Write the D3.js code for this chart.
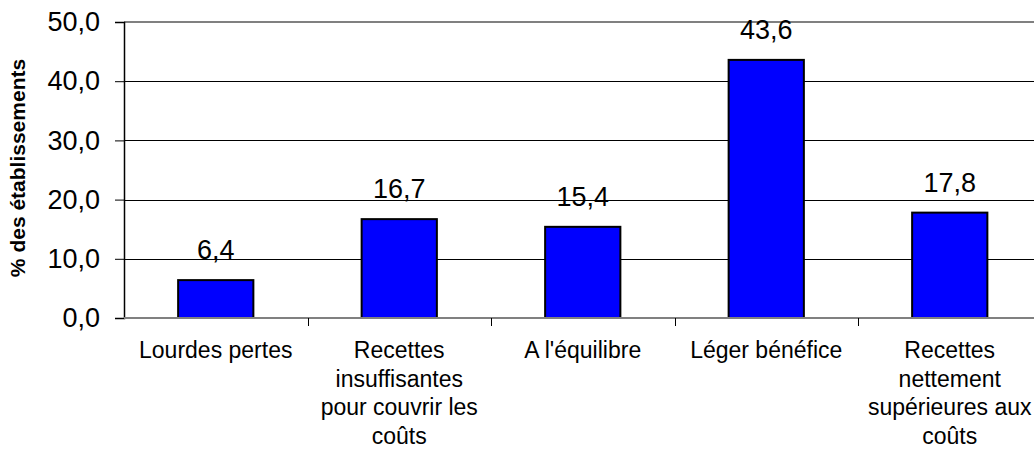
<!DOCTYPE html>
<html>
<head>
<meta charset="utf-8">
<script src="https://cdnjs.cloudflare.com/ajax/libs/d3/7.8.5/d3.min.js"></script>
<style>
body { margin: 0; background: #fff; }
text { font-family: "Liberation Sans", Arial, sans-serif; fill: #000; }
</style>
</head>
<body>
<svg width="1034" height="450"></svg>
<script>
// chart values
var categories = ["Lourdes pertes",
    "Recettes\ninsuffisantes\npour couvrir les\ncoûts",
    "A l'équilibre",
    "Léger bénéfice",
    "Recettes\nnettement\nsupérieures aux\ncoûts"];
var values = [6.4, 16.7, 15.4, 43.6, 17.8];
var yTicks = [0, 10, 20, 30, 40, 50];
var yTitle = "% des établissements";

// plot box (note: "top" is reserved on window, so use other names)
var plotLeft = 124, plotRight = 1041.5, plotTop = 22, plotBottom = 318;

var svg = d3.select("svg");
var commaFmt = function(d) { return d3.format(".1f")(d).replace(".", ","); };

var xScale = d3.scaleBand() // one step per category, ticks on the boundaries
    .domain(categories)
    .range([plotLeft, plotRight])
    .padding(0);

var yScale = d3.scaleLinear()
    .domain([0, 50])
    .range([plotBottom, plotTop]);

// horizontal gridlines
svg.append("g")
    .selectAll("line")
    .data(yTicks.filter(function(d) { return d > 0 && d < 50; }))
    .enter()
    .append("line")
    .attr("x1", plotLeft).attr("x2", plotRight)
    .attr("y1", function(d) { return Math.round(yScale(d)) + 0.5; })
    .attr("y2", function(d) { return Math.round(yScale(d)) + 0.5; })
    .attr("stroke", "#000")
    .attr("stroke-width", 1);

// top border of the plot area
svg.append("line")
    .attr("x1", plotLeft).attr("x2", plotRight)
    .attr("y1", yScale(50)).attr("y2", yScale(50))
    .attr("stroke", "#808080")
    .attr("stroke-width", 2);

// bars
var barFrac = 0.41;
svg.append("g")
    .selectAll("rect")
    .data(values)
    .enter()
    .append("rect")
    .attr("x", function(d, i) { return xScale(categories[i]) + xScale.bandwidth() * (1 - barFrac) / 2; })
    .attr("width", xScale.bandwidth() * barFrac)
    .attr("y", function(d) { return yScale(d); })
    .attr("height", function(d) { return yScale(0) - yScale(d); })
    .attr("fill", "#0000ff")
    .attr("stroke", "#000")
    .attr("stroke-width", 2);

// value labels above the bars
svg.append("g")
    .selectAll("text")
    .data(values)
    .enter()
    .append("text")
    .attr("x", function(d, i) { return xScale(categories[i]) + xScale.bandwidth() / 2; })
    .attr("y", function(d) { return yScale(d) - 21; })
    .attr("text-anchor", "middle")
    .style("font-size", "27px")
    .text(commaFmt);

// left axis
var yAxis = svg.append("g")
    .attr("transform", "translate(" + plotLeft + ",0)")
    .call(d3.axisLeft(yScale).tickValues(yTicks).tickFormat(commaFmt).tickSize(9).tickPadding(15));
yAxis.select(".domain").attr("stroke", "#000").attr("stroke-width", 1.5);
yAxis.selectAll(".tick line").attr("stroke", "#000");
yAxis.selectAll(".tick text")
    .attr("fill", "#000")
    .style("font-size", "27px")
    .style("font-family", "'Liberation Sans', Arial, sans-serif");

// bottom axis with ticks between the categories
svg.append("line")
    .attr("x1", plotLeft).attr("x2", plotRight)
    .attr("y1", plotBottom).attr("y2", plotBottom)
    .attr("stroke", "#808080")
    .attr("stroke-width", 2);

svg.append("g")
    .selectAll("line")
    .data(categories.slice(1))
    .enter()
    .append("line")
    .attr("x1", function(d) { return Math.round(xScale(d)) + 0.5; })
    .attr("x2", function(d) { return Math.round(xScale(d)) + 0.5; })
    .attr("y1", plotBottom).attr("y2", plotBottom + 8)
    .attr("stroke", "#000");

// category labels, one tspan per line
svg.append("g")
    .selectAll("text")
    .data(categories)
    .enter()
    .append("text")
    .attr("text-anchor", "middle")
    .style("font-size", "23px")
    .each(function(d) {
        var cx = xScale(d) + xScale.bandwidth() / 2;
        d3.select(this).selectAll("tspan")
            .data(d.split("\n"))
            .enter()
            .append("tspan")
            .attr("x", cx)
            .attr("y", function(t, j) { return 358 + j * 28.5; })
            .text(function(t) { return t; });
    });

// y axis title
svg.append("text")
    .attr("transform", "translate(25," + ((plotTop + plotBottom) / 2 - 2) + ") rotate(-90)")
    .attr("text-anchor", "middle")
    .style("font-size", "21px")
    .style("font-weight", "bold")
    .text(yTitle);
</script>
</body>
</html>
